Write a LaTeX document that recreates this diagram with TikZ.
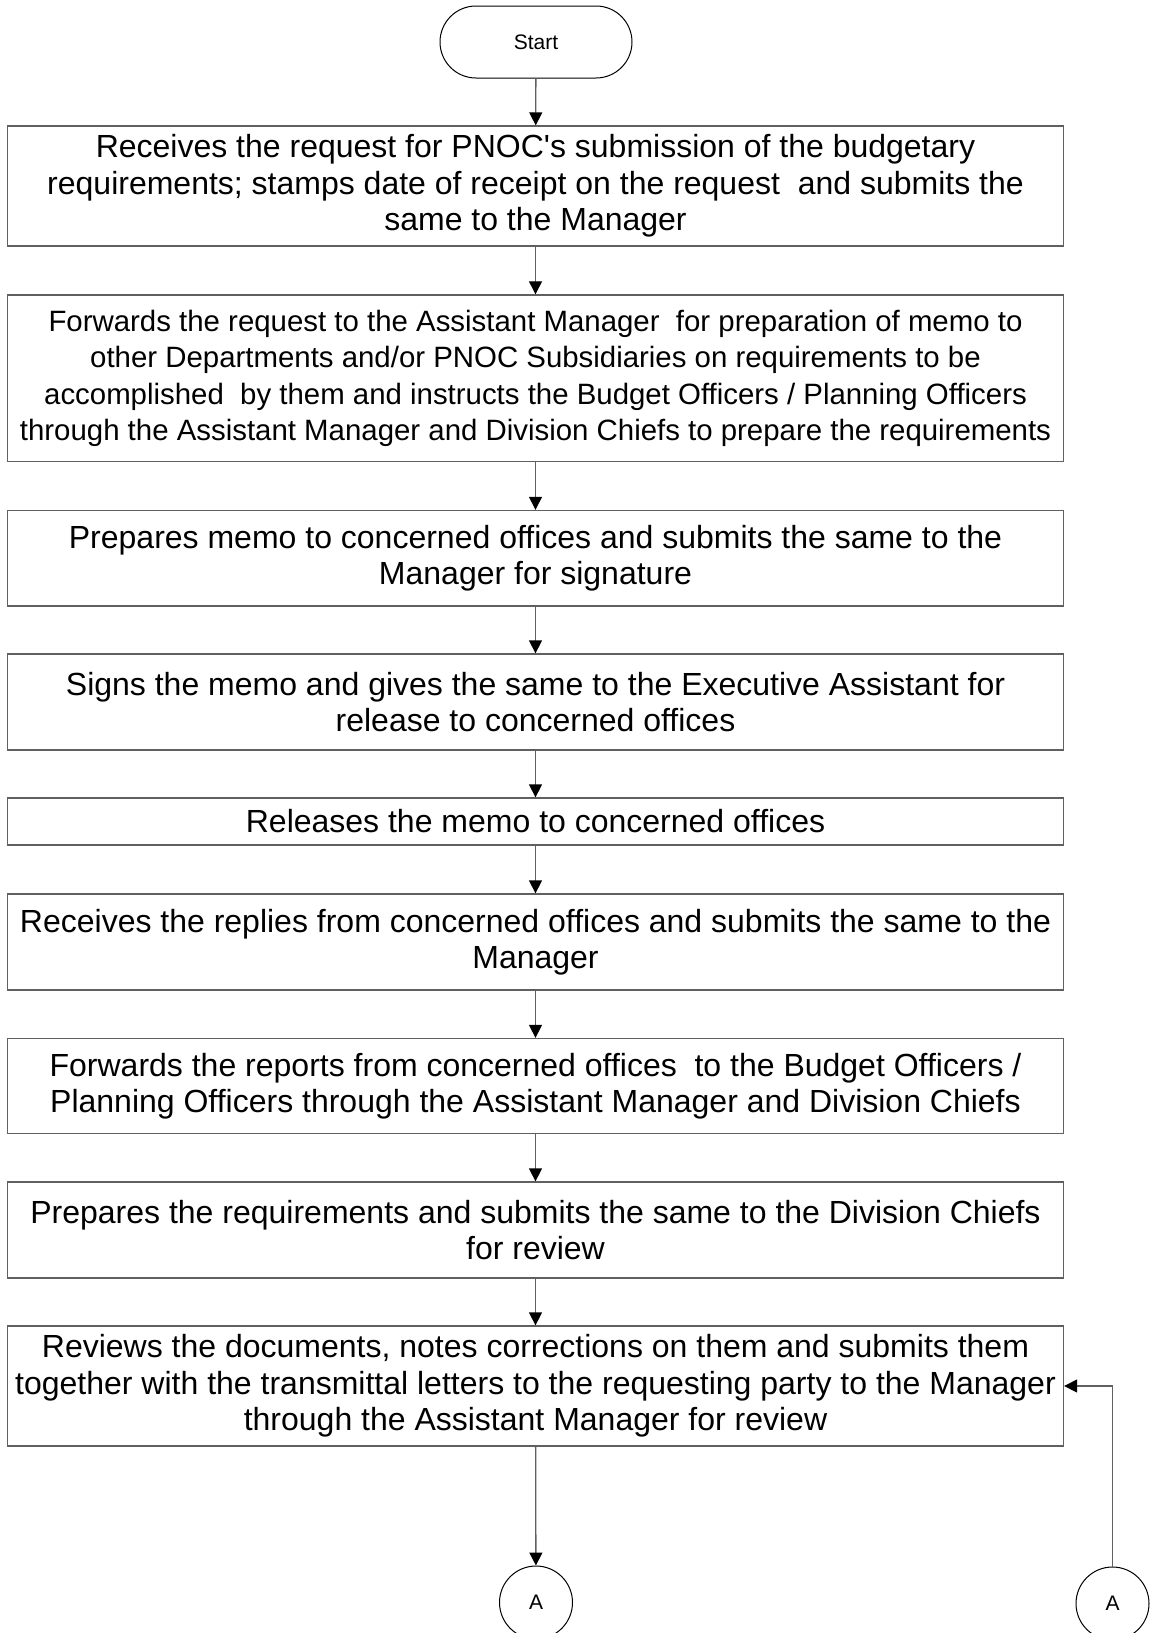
\documentclass[tikz,border=0pt]{standalone}
\usepackage{fontspec}
\newfontfamily\arialf{Liberation Sans}
\usetikzlibrary{arrows.meta}
\definecolor{lineg}{RGB}{96,96,96}
\tikzset{
  stepbox/.style={draw=lineg, line width=1.3pt, minimum width=1056pt, inner sep=0pt, align=center, font=\arialf\fontsize{32}{36.5}\selectfont},
  smalltext/.style={font=\arialf\fontsize{29.4}{36.5}\selectfont},
  conn/.style={draw=lineg, line width=1.3pt, -{Triangle[length=13pt,width=13pt,color=black,fill=black]}},
  termbox/.style={draw=black, line width=1pt, rounded corners=36pt, minimum width=192pt, minimum height=72pt, inner sep=0pt, font=\arialf\fontsize{21}{24}\selectfont},
  offpage/.style={draw=black, line width=1pt, circle, minimum size=73pt, inner sep=0pt, font=\arialf\fontsize{21}{24}\selectfont}
}
\begin{document}
\begin{tikzpicture}[x=1pt,y=-1pt]
\useasboundingbox (0,0) rectangle (1149,1633);
\fill[white] (0,0) rectangle (1149,1633);
\node[termbox] (start) at (536,42) {Start};
\node[stepbox, minimum height=120pt] (b1) at (535.5,186) {Receives the request for PNOC's submission of the budgetary\\requirements; stamps date of receipt on the request~ and submits the\\same to the Manager};
\node[stepbox, smalltext, minimum height=166.5pt] (b2) at (535.5,378.2) {Forwards the request to the Assistant Manager~ for preparation of memo to\\other Departments and/or PNOC Subsidiaries on requirements to be\\accomplished~ by them and instructs the Budget Officers / Planning Officers\\through the Assistant Manager and Division Chiefs to prepare the requirements};
\node[stepbox, minimum height=95.5pt] (b3) at (535.5,558.2) {Prepares memo to concerned offices and submits the same to the\\Manager for signature};
\node[stepbox, minimum height=96pt] (b4) at (535.5,702) {Signs the memo and gives the same to the Executive Assistant for\\release to concerned offices};
\node[stepbox, minimum height=47pt] (b5) at (535.5,821.5) {Releases the memo to concerned offices};
\node[stepbox, minimum height=96pt] (b6) at (535.5,942) {Receives the replies from concerned offices and submits the same to the\\Manager};
\node[stepbox, minimum height=95pt] (b7) at (535.5,1086) {Forwards the reports from concerned offices~ to the Budget Officers /\\Planning Officers through the Assistant Manager and Division Chiefs};
\node[stepbox, minimum height=96pt] (b8) at (535.5,1230) {Prepares the requirements and submits the same to the Division Chiefs\\for review};
\node[stepbox, minimum height=120pt] (b9) at (535.5,1386) {Reviews the documents, notes corrections on them and submits them\\together with the transmittal letters to the requesting party to the Manager\\through the Assistant Manager for review};
\node[offpage] (a1) at (536,1602.5) {A};
\node[offpage] (a2) at (1112.5,1603.5) {A};
\draw[conn] (start) -- (b1);
\draw[conn] (b1) -- (b2);
\draw[conn] (b2) -- (b3);
\draw[conn] (b3) -- (b4);
\draw[conn] (b4) -- (b5);
\draw[conn] (b5) -- (b6);
\draw[conn] (b6) -- (b7);
\draw[conn] (b7) -- (b8);
\draw[conn] (b8) -- (b9);
\draw[conn] (b9) -- (a1);
\draw[conn] (a2.north) |- (b9.east);
\end{tikzpicture}
\end{document}
